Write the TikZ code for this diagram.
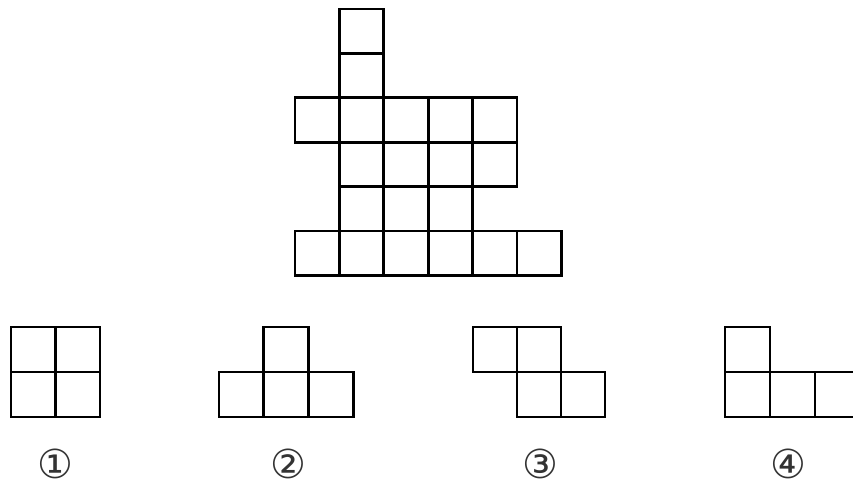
\documentclass[tikz,border=0pt]{standalone}
\usepackage{fontspec}
\newfontfamily\circfont{DejaVu Sans}
\begin{document}
\begin{tikzpicture}[x=1pt,y=-1pt,
  cellline/.style={line width=2.8pt,draw=black,line join=miter},
  circlabel/.style={font=\circfont\fontsize{40}{44}\selectfont,inner sep=0pt,text=black!80}]
\clip (0,0) rectangle (853,489);
\fill[white] (0,0) rectangle (853,489);
% main figure
\def\s{44.4}
\foreach \c/\r in {1/0,1/1,0/2,1/2,2/2,3/2,4/2,1/3,2/3,3/3,4/3,1/4,2/4,3/4,0/5,1/5,2/5,3/5,4/5,5/5}{
  \draw[cellline] ({295+\c*\s},{9+\r*\s}) rectangle ++(\s,\s);
}
% piece 1
\foreach \c/\r in {0/0,1/0,0/1,1/1}{
  \draw[cellline] ({11+\c*44.5},{327+\r*45}) rectangle ++(44.5,45);
}
% piece 2
\foreach \c/\r in {1/0,0/1,1/1,2/1}{
  \draw[cellline] ({219+\c*44.7},{327+\r*45}) rectangle ++(44.7,45);
}
% piece 3
\foreach \c/\r in {0/0,1/0,1/1,2/1}{
  \draw[cellline] ({473+\c*44},{327+\r*45}) rectangle ++(44,45);
}
% piece 4
\foreach \c/\r in {0/0,0/1,1/1,2/1}{
  \draw[cellline] ({725+\c*45},{327+\r*45}) rectangle ++(45,45);
}
% labels
\node[circlabel] (l1) at (55,464) {①};
\node[circlabel] (l2) at (288,464) {②};
\node[circlabel] (l3) at (540,464) {③};
\node[circlabel] (l4) at (788,464) {④};
\end{tikzpicture}
\end{document}
